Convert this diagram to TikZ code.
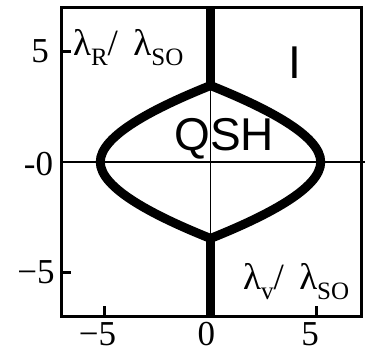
\documentclass[tikz,border=0pt]{standalone}
\usepackage{fontspec}
\setmainfont{Liberation Serif}
\newfontfamily\phasefont{Liberation Sans}
\usetikzlibrary{positioning}
\tikzstyle{boundary} = [line width=9pt, line join=round]
\tikzstyle{axisline} = [line width=1.4pt]
\tikzstyle{frameline} = [line width=3pt]
\tikzstyle{ticklabel} = [inner sep=0pt, font=\fontsize{35}{35}\selectfont]
\tikzstyle{phaselabel} = [inner sep=0pt, anchor=base, font=\phasefont\fontsize{46}{46}\selectfont]
\tikzstyle{ratiolabel} = [inner sep=0pt, anchor=base west, font=\fontsize{37}{37}\selectfont]
\newcommand{\lsub}[1]{\raisebox{-10pt}{\fontsize{25}{25}\selectfont #1}}

\begin{document}
\begin{tikzpicture}[x=21.2pt, y=22.1pt]
    % Dimensions
    \def\L{7.05}  % left edge
    \def\R{7.1}   % right edge
    \def\T{7.0}   % top edge
    \def\B{6.97}  % bottom edge
    \def\vx{5.2}  % lambda_v at the side apex
    \def\ry{3.46} % lambda_R at the top apex
    \useasboundingbox (-9.93,-8.688) rectangle (7.288,7.33);

    % Axes through the origin
    \draw[axisline] (-\L,0) -- (7.29,0);
    \draw[axisline] (0,-\B) -- (0,\T);

    % Phase boundary
    \draw[boundary] (0,\ry) .. controls (2.6,2.46) and (\vx,1.2) .. (\vx,0)
      .. controls (\vx,-1.2) and (2.6,-2.46) .. (0,-\ry)
      .. controls (-2.6,-2.46) and (-\vx,-1.2) .. (-\vx,0)
      .. controls (-\vx,1.2) and (-2.6,2.46) .. cycle;
    \draw[boundary] (0,\T) -- (0,\ry);
    \draw[boundary] (0,-\ry) -- (0,-\B);

    % Frame and ticks
    \draw[frameline] (-\L,-\B) rectangle (\R,\T);
    \foreach \t in {-5,5} {
      \draw[frameline] (-\L,\t) -- ++(0.45,0);
      \draw[frameline] (\t,-\B) -- ++(0,0.45);
    }

    % Tick labels
    \node[ticklabel, anchor=base east] (yfive) at (-7.62,4.48) {5};
    \node[ticklabel, anchor=base east] (yzero) at (-7.42,-0.59) {-0};
    \node[ticklabel, anchor=base east] (ymfive) at (-7.34,-5.48) {−5};
    \node[ticklabel, anchor=base] (xmfive) at (-5.33,-8.3) {−5};
    \node[ticklabel, anchor=base] (xzero) at (-0.19,-8.3) {0};
    \node[ticklabel, anchor=base] (xfive) at (4.7,-8.3) {5};

    % Phase labels
    \node[phaselabel] (qsh) at (0.64,0.54) {QSH};
    \node[phaselabel] (insul) at (3.99,3.8) {I};

    % Axis labels
    \node[ratiolabel] (ratioR) at (-6.49,4.84) {λ\lsub{R}/\, λ\lsub{SO}};
    \node[ratiolabel] (ratioV) at (1.53,-5.79) {λ\lsub{v}/\, λ\lsub{SO}};
\end{tikzpicture}
\end{document}
